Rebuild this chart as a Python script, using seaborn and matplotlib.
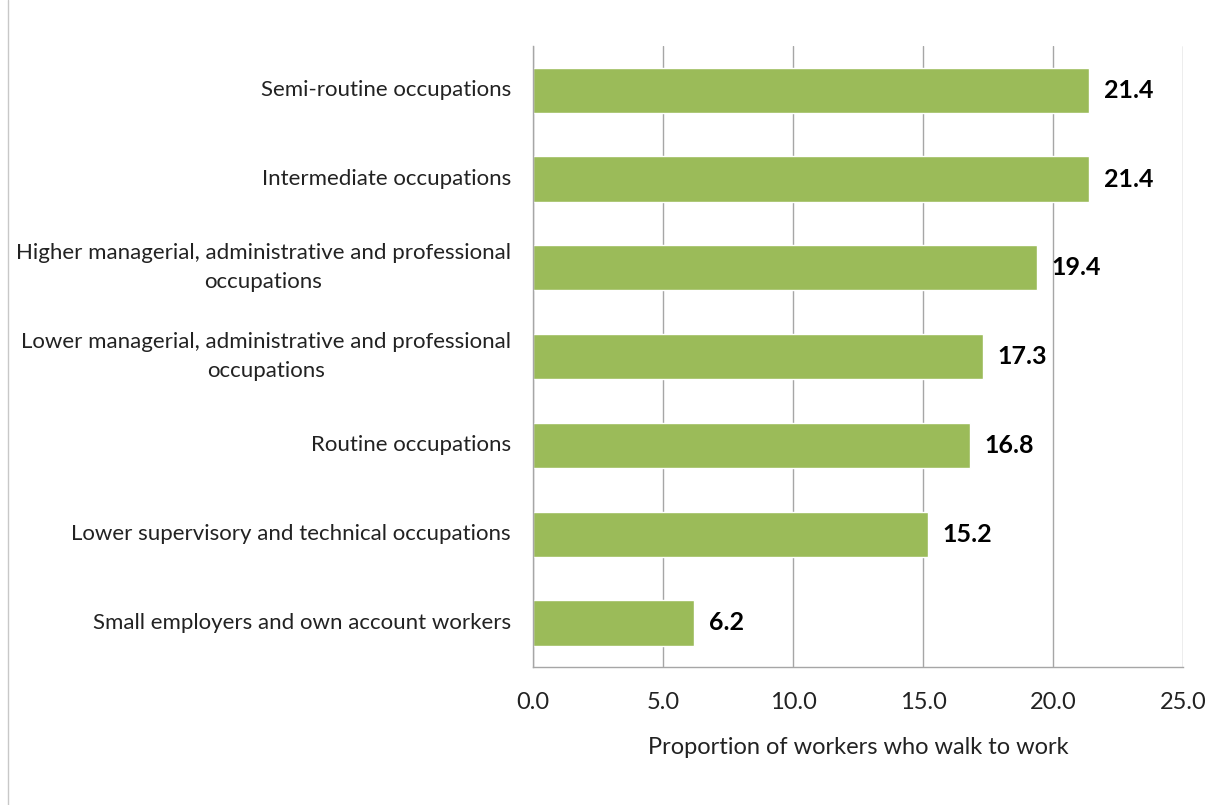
import matplotlib
matplotlib.use('Agg')
import matplotlib.pyplot as plt
import numpy as np
import pandas as pd
import seaborn as sns
from matplotlib.lines import Line2D

categories = [
    'Semi-routine occupations',
    'Intermediate occupations',
    'Higher managerial, administrative and professional\noccupations',
    'Lower managerial, administrative and professional\noccupations',
    'Routine occupations',
    'Lower supervisory and technical occupations',
    'Small employers and own account workers',
]
values = [21.4, 21.4, 19.4, 17.3, 16.8, 15.2, 6.2]
x_ticks = [0, 5, 10, 15, 20, 25]

df = pd.DataFrame({'category': categories, 'value': values})

sns.set_style('white')
plt.rcParams['font.family'] = ['Lato', 'DejaVu Sans']

fig = plt.figure(figsize=(12.17, 8.05), dpi=100)
ax = fig.add_axes([0.438, 0.171, 0.534, 0.772])

sns.barplot(data=df, x='value', y='category', orient='h', color='#9BBB59',
            width=0.51, saturation=1, ax=ax)

grid_color = '#A6A6A6'
ax.set_xlim(0, 25)
ax.set_ylim(len(categories) - 0.5, -0.5)
ax.set_xticks(x_ticks)
ax.set_xticklabels([f'{t:.1f}' for t in x_ticks], fontsize=17, color='#222222')
ax.xaxis.grid(True, color=grid_color, linewidth=1)
ax.set_axisbelow(True)

# y ticks sit at category boundaries, labels at centres
ax.set_yticks(np.arange(len(categories)))
ax.set_yticklabels(categories, fontsize=16, color='#222222', ha='right',
                   va='center')
ax.tick_params(axis='y', length=0, pad=16)
for lbl in ax.get_yticklabels():
    lbl.set_multialignment('center')
    lbl.set_linespacing(1.55)
ax.set_yticks(np.arange(-0.5, len(categories)), minor=True)
ax.tick_params(axis='y', which='minor', length=8, color=grid_color, width=1)
ax.tick_params(axis='x', length=8, color=grid_color, width=1, pad=10)

ax.set_xlabel('Proportion of workers who walk to work', fontsize=17,
              color='#222222', labelpad=17)
ax.set_ylabel('')

for s in ['top', 'right']:
    ax.spines[s].set_visible(False)
for s in ['left', 'bottom']:
    ax.spines[s].set_color(grid_color)
    ax.spines[s].set_linewidth(1)

for i, v in enumerate(values):
    ax.text(v + 0.55, i, f'{v:.1f}', va='center', ha='left', fontsize=18,
            fontweight='bold', color='black')

fig.add_artist(Line2D([8 / 1217, 8 / 1217], [0, 1], color='#C8C8C8',
                      linewidth=1, transform=fig.transFigure))

plt.savefig('out.png', dpi=100)
plt.close()
